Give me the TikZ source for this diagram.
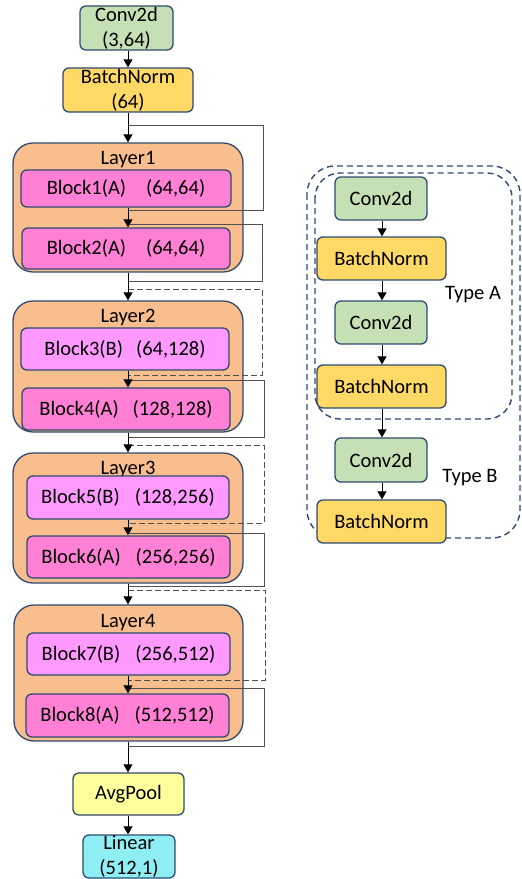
\documentclass[tikz,border=0pt]{standalone}
\usepackage{fontspec}
\setmainfont{Carlito}
\usetikzlibrary{arrows.meta}
\definecolor{bordc}{HTML}{2F4A6E}
\definecolor{greenc}{HTML}{C5E0B4}
\definecolor{goldc}{HTML}{FFD966}
\definecolor{orangec}{HTML}{F9BE8E}
\definecolor{pinka}{HTML}{FF80D5}
\definecolor{pinkb}{HTML}{FF99FF}
\definecolor{yellowc}{HTML}{FFFF9E}
\definecolor{cyanc}{HTML}{8EEEF4}
\definecolor{skipc}{HTML}{505050}
\tikzset{
  base/.style={draw=bordc, line width=1.3pt, inner sep=0pt, align=center,
    font=\fontsize{20.5}{25}\selectfont},
  smallbox/.style={base, rounded corners=6pt},
  layerbox/.style={base, rounded corners=20pt},
  blockbox/.style={base, rounded corners=6pt},
  flow/.style={line width=0.9pt, draw=black, -{Triangle[length=8pt,width=9pt]}},
  skipline/.style={line width=0.9pt, draw=skipc},
  skipdash/.style={line width=0.9pt, draw=skipc, dash pattern=on 6pt off 3pt},
  typebox/.style={draw=bordc, line width=1.4pt, dash pattern=on 6pt off 4pt},
  lbl/.style={font=\fontsize{20.5}{25}\selectfont, inner sep=0pt}
}
\begin{document}
\begin{tikzpicture}[x=1pt,y=-1pt]
\useasboundingbox (0,0) rectangle (522,879);
\coordinate (sp) at (128,0);

% ---- left column ----
\node[smallbox, fill=greenc, minimum width=93pt, minimum height=44pt] (conv0) at (126.5,28) {Conv2d\\(3,64)};
\node[smallbox, fill=goldc, minimum width=130pt, minimum height=44pt] (bn0) at (128,90) {BatchNorm\\(64)};

\node[layerbox, fill=orangec, minimum width=230pt, minimum height=129pt] (l1) at (128,207.5) {};
\node[lbl] (l1t) at (128,160) {Layer1};
\node[blockbox, fill=pinka, minimum width=210pt, minimum height=37pt] (b1) at (126,188.5) {Block1(A)\hspace{20pt}(64,64)};
\node[blockbox, fill=pinka, minimum width=208pt, minimum height=41pt] (b2) at (126,248.5) {Block2(A)\hspace{20pt}(64,64)};

\node[layerbox, fill=orangec, minimum width=230pt, minimum height=131pt] (l2) at (128,366.5) {};
\node[lbl] (l2t) at (128,317) {Layer2};
\node[blockbox, fill=pinkb, minimum width=208pt, minimum height=42pt] (b3) at (125,349) {Block3(B)\hspace{13pt}(64,128)};
\node[blockbox, fill=pinka, minimum width=208pt, minimum height=42pt] (b4) at (126,409) {Block4(A)\hspace{14pt}(128,128)};

\node[layerbox, fill=orangec, minimum width=230pt, minimum height=130pt] (l3) at (128,518) {};
\node[lbl] (l3t) at (128,469) {Layer3};
\node[blockbox, fill=pinkb, minimum width=202pt, minimum height=43pt] (b5) at (128,497.5) {Block5(B)\hspace{15pt}(128,256)};
\node[blockbox, fill=pinka, minimum width=203pt, minimum height=42pt] (b6) at (128.5,557) {Block6(A)\hspace{15pt}(256,256)};

\node[layerbox, fill=orangec, minimum width=229pt, minimum height=136pt] (l4) at (128.5,673) {};
\node[lbl] (l4t) at (128,623) {Layer4};
\node[blockbox, fill=pinkb, minimum width=203pt, minimum height=42pt] (b7) at (128.5,654) {Block7(B)\hspace{15pt}(256,512)};
\node[blockbox, fill=pinka, minimum width=203pt, minimum height=43pt] (b8) at (127.5,715.5) {Block8(A)\hspace{15pt}(512,512)};

\node[smallbox, fill=yellowc, minimum width=111pt, minimum height=42pt] (avg) at (128.5,794) {AvgPool};
\node[smallbox, fill=cyanc, minimum width=92pt, minimum height=43pt] (lin) at (129,856.5) {Linear\\(512,1)};

% ---- skip connections ----
\coordinate (k1s) at (128,125); \coordinate (k1e) at (128,210);
\coordinate (k2s) at (128,224); \coordinate (k2e) at (128,281);
\coordinate (k3s) at (128,289); \coordinate (k3e) at (128,375);
\coordinate (k4s) at (128,380); \coordinate (k4e) at (128,437);
\coordinate (k5s) at (128,445); \coordinate (k5e) at (128,523);
\coordinate (k6s) at (128,533); \coordinate (k6e) at (128,586);
\coordinate (k7s) at (128,590); \coordinate (k7e) at (128,680);
\coordinate (k8s) at (128,688); \coordinate (k8e) at (128,746);
\draw[skipline] (k1s) -- ++(135,0) |- (k1e);
\draw[skipline] (k2s) -- ++(134,0) |- (k2e);
\draw[skipdash] (k3s) -- ++(134,0) |- (k3e);
\draw[skipline] (k4s) -- ++(136,0) |- (k4e);
\draw[skipdash] (k5s) -- ++(136,0) |- (k5e);
\draw[skipline] (k6s) -- ++(136,0) |- (k6e);
\draw[skipdash] (k7s) -- ++(137,0) |- (k7e);
\draw[skipline] (k8s) -- ++(136,0) |- (k8e);

% ---- main flow ----
\draw[flow] (conv0.south -| sp) -- (bn0.north -| sp);
\draw[flow] (bn0.south -| sp) -- (l1.north -| sp);
\draw[flow] (b1.south -| sp) -- (b2.north -| sp);
\draw[flow] (l1.south -| sp) -- (l2.north -| sp);
\draw[flow] (b3.south -| sp) -- (b4.north -| sp);
\draw[flow] (l2.south -| sp) -- (l3.north -| sp);
\draw[flow] (b5.south -| sp) -- (b6.north -| sp);
\draw[flow] (l3.south -| sp) -- (l4.north -| sp);
\draw[flow] (b7.south -| sp) -- (b8.north -| sp);
\draw[flow] (l4.south -| sp) -- (avg.north -| sp);
\draw[flow] (avg.south -| sp) -- (lin.north -| sp);

% ---- right legend ----
\draw[typebox, rounded corners=28pt] (307,166) rectangle (520,538);
\draw[typebox, rounded corners=25pt] (315,173) rectangle (512,419);
\node[smallbox, fill=greenc, minimum width=92pt, minimum height=43pt] (rc1) at (381,198.5) {Conv2d};
\node[smallbox, fill=goldc, minimum width=129pt, minimum height=43pt] (rb1) at (381.5,258.5) {BatchNorm};
\node[smallbox, fill=greenc, minimum width=92pt, minimum height=43pt] (rc2) at (381,322.5) {Conv2d};
\node[smallbox, fill=goldc, minimum width=129pt, minimum height=43pt] (rb2) at (381.5,386.5) {BatchNorm};
\node[smallbox, fill=greenc, minimum width=92pt, minimum height=44pt] (rc3) at (381,460) {Conv2d};
\node[smallbox, fill=goldc, minimum width=129pt, minimum height=43pt] (rb3) at (381.5,521.5) {BatchNorm};
\coordinate (rx) at (382,0);
\draw[flow] (rc1.south -| rx) -- (rb1.north -| rx);
\draw[flow] (rb1.south -| rx) -- (rc2.north -| rx);
\draw[flow] (rc2.south -| rx) -- (rb2.north -| rx);
\draw[flow] (rb2.south -| rx) -- (rc3.north -| rx);
\draw[flow] (rc3.south -| rx) -- (rb3.north -| rx);
\node[lbl] (ta) at (473,295) {Type A};
\node[lbl] (tb) at (470,478) {Type B};
\end{tikzpicture}
\end{document}
